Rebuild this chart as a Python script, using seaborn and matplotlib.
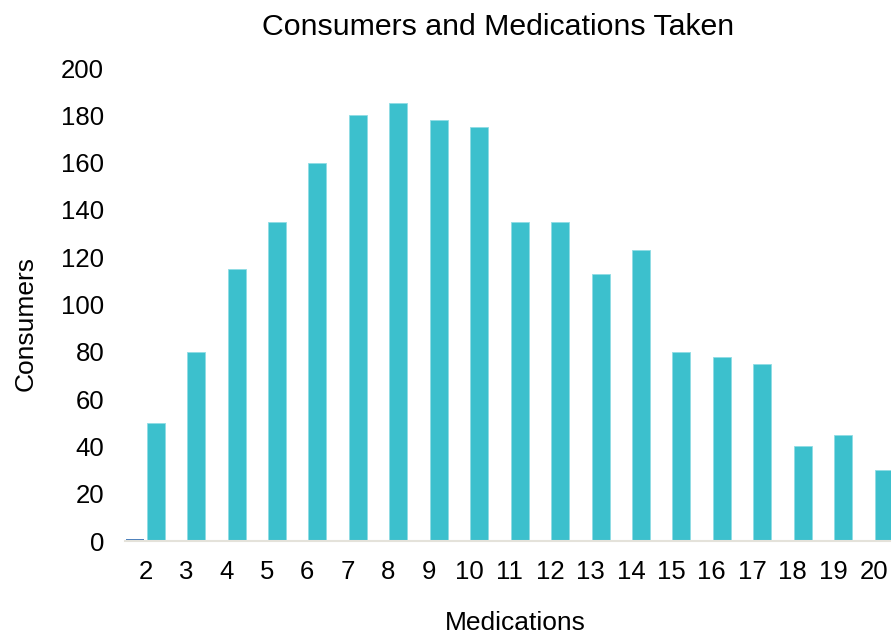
import matplotlib
matplotlib.use("Agg")
import matplotlib.pyplot as plt
import seaborn as sns
import pandas as pd

# Number of medications taken (categories on the x axis)
medications = ["2", "3", "4", "5", "6", "7", "8", "9", "10", "11",
               "12", "13", "14", "15", "16", "17", "18", "19", "20"]
# Consumers per medication count
consumers = [50, 80, 115, 135, 160, 180, 185, 178, 175, 135,
             135, 113, 123, 80, 78, 75, 40, 45, 30]
# Secondary series (nearly empty)
secondary = [1, 0, 0, 0, 0, 0, 0, 0, 0, 0,
             0, 0, 0, 0, 0, 0, 0, 0, 0]
y_ticks = [0, 20, 40, 60, 80, 100, 120, 140, 160, 180, 200]

series_names = ["Secondary", "Consumers"]
palette = {"Secondary": "#4A7EBB", "Consumers": "#3CC0CD"}

df = pd.DataFrame({
    "Medications": medications * 2,
    "value": secondary + consumers,
    "series": [series_names[0]] * len(medications) + [series_names[1]] * len(medications),
})

sns.set_theme(style="white")
plt.rcParams["font.family"] = ["Liberation Sans", "DejaVu Sans"]
plt.rcParams["text.color"] = "black"
plt.rcParams["axes.labelcolor"] = "black"

fig = plt.figure(figsize=(8.91, 6.35), dpi=100)
ax = fig.add_axes([0.1403, 0.148, 0.8597, 0.7449])

sns.barplot(data=df, x="Medications", y="value", hue="series",
            hue_order=series_names, palette=palette, order=medications,
            width=1.0, gap=0.11, saturation=1, legend=False,
            linewidth=0, ax=ax)

# light outline on the main series bars
for bar in ax.containers[1]:
    bar.set_edgecolor("#8FDCE4")
    bar.set_linewidth(0.6)

ax.set_ylim(0, 200)
ax.set_yticks(y_ticks)
ax.set_xlim(-0.507, 18.43)

for side in ["left", "top", "right"]:
    ax.spines[side].set_visible(False)
ax.spines["bottom"].set_color("#E4E2DA")
ax.spines["bottom"].set_linewidth(1.5)

ax.tick_params(axis="both", length=0, labelsize=18.5, colors="black")
ax.tick_params(axis="y", pad=15)
ax.tick_params(axis="x", pad=14)

ax.set_title("Consumers and Medications Taken", fontsize=21.8, pad=24, x=0.4876)
ax.set_xlabel("Medications", fontsize=19)
ax.xaxis.set_label_coords(0.509, -0.148)
ax.set_ylabel("Consumers", fontsize=19)
ax.yaxis.set_label_coords(-0.114, 0.46)

fig.savefig("out.png", dpi=100)
